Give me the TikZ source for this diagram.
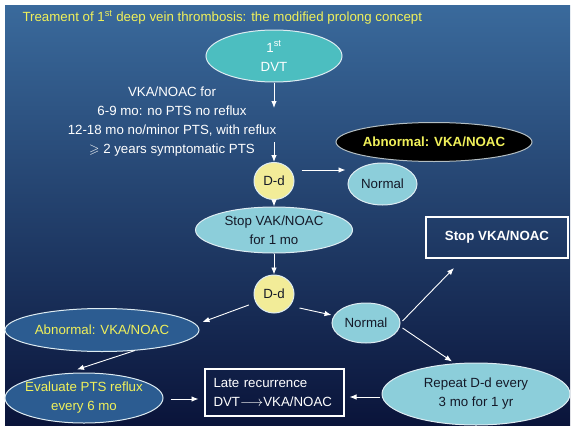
\documentclass[tikz,border=0pt]{standalone}
\usepackage{amssymb}
\usepackage{fontspec}
\setmainfont{Liberation Sans}
\usepackage{xcolor}
\usetikzlibrary{positioning, arrows.meta, shapes.geometric}

\definecolor{bgtop}{RGB}{58,106,156}
\definecolor{bgmid}{RGB}{28,60,108}
\definecolor{bgbot}{RGB}{10,20,58}
\definecolor{dvtfill}{RGB}{76,190,192}
\definecolor{ddfill}{RGB}{242,236,152}
\definecolor{palefill}{RGB}{140,206,218}
\definecolor{deepfill}{RGB}{44,92,145}
\definecolor{ringcol}{RGB}{222,236,242}
\definecolor{inkcol}{RGB}{20,25,40}
\definecolor{txtyellow}{RGB}{240,240,90}

\begin{document}
\begin{tikzpicture}[x=1pt, y=-1pt, on grid,
		every node/.style={font=\fontsize{13.3}{19}\selectfont},
		oval/.style={draw=ringcol, ellipse, inner sep=-12pt, line width=1pt, align=center},
		dvtoval/.style={oval, fill=dvtfill, text=white, minimum width=136pt, minimum height=52pt},
		ddoval/.style={oval, fill=ddfill, text=inkcol, minimum width=40pt, minimum height=37pt},
		pale/.style={oval, fill=palefill, text=inkcol},
		deep/.style={oval, fill=deepfill, text=txtyellow},
		plainbox/.style={draw=white, line width=2pt, rectangle, text=white, minimum height=41pt},
		arr/.style={draw=white, line width=0.9pt, -{Latex[length=7pt, width=5.5pt]}}]

		\useasboundingbox (0,0) rectangle (575,431);
		\fill[white] (0,0) rectangle (575,431);
		\shade[top color=bgtop, middle color=bgmid, bottom color=bgbot] (5,5) rectangle (570,425);

		\node[anchor=west, text=txtyellow] (title) at (19,17) {Treament of 1\textsuperscript{st} deep vein thrombosis: the modified prolong concept};

		\node[dvtoval] (dvt) at (274,56) {1\textsuperscript{st}\\DVT};
		\node[text=white, align=center, below left = 66pt and 102pt of dvt] (plan) {VKA/NOAC for\\6-9 mo: no PTS no reflux\\12-18 mo no/minor PTS, with reflux\\$\geqslant$ 2 years symptomatic PTS};
		\coordinate[below = 52pt of dvt] (gap-1);
		\coordinate[below = 86pt of dvt] (gap-2);
		\node[ddoval, below = 125pt of dvt] (dd-1) {D-d};
		\node[pale, minimum width=69pt, minimum height=42pt, below right = 3pt and 108.5pt of dd-1] (norm-1) {Normal};
		\node[oval, fill=black, draw=ringcol!80!black, text=txtyellow, minimum width=196pt, minimum height=39pt, above right = 39pt and 160pt of dd-1] (abn-1) {\bfseries Abnormal: VKA/NOAC};
		\node[pale, minimum width=157pt, minimum height=46pt, below = 49pt of dd-1] (stop-1) {Stop VAK/NOAC\\for 1 mo};
		\node[ddoval, minimum height=38pt, below = 64pt of stop-1] (dd-2) {D-d};
		\node[pale, minimum width=68pt, minimum height=40pt, below right = 29pt and 92pt of dd-2] (norm-2) {Normal};
		\node[deep, minimum width=194pt, minimum height=43pt, below left = 36pt and 172pt of dd-2] (abn-2) {Abnormal: VKA/NOAC};
		\node[deep, minimum width=158pt, minimum height=50pt, below left = 68pt and 18pt of abn-2] (eval) {Evaluate PTS reflux\\every 6 mo};
		\node[plainbox, inner sep=9pt, text width=121pt, align=left, below = 98.5pt of dd-2] (late) {Late recurrence\\DVT$\longrightarrow$VKA/NOAC};
		\node[pale, minimum width=188pt, minimum height=62pt, below right = 71pt and 110pt of norm-2] (repeat) {Repeat D-d every\\3 mo for 1 yr};
		\node[plainbox, minimum width=142pt, above right = 85.5pt and 131pt of norm-2] (stopbox) {\bfseries Stop VKA/NOAC};

		\draw[arr] (dvt) -- (gap-1);
		\draw[arr] (gap-2) -- (dd-1);
		\draw[arr] (dd-1) -- (stop-1);
		\draw[arr] (stop-1) -- (dd-2);
		\draw[arr] ([xshift=7pt, yshift=11pt]dd-1.east) -- ([xshift=-2pt, yshift=14pt]norm-1.west);
		\draw[arr] ([xshift=-6pt, yshift=-4pt]dd-2.200) -- ([xshift=3pt, yshift=8pt]abn-2.east);
		\draw[arr] ([xshift=5pt, yshift=-14pt]dd-2.east) -- ([yshift=8pt]norm-2.west);
		\draw[arr] ([xshift=2pt, yshift=2pt]norm-2.east) -- ([xshift=-43pt, yshift=-9pt]stopbox.south);
		\draw[arr] ([xshift=2pt, yshift=-5pt]norm-2.east) -- ([xshift=-24pt, yshift=1pt]repeat.north);
		\draw[arr] ([xshift=33pt, yshift=1.5pt]abn-2.south) -- ([xshift=-7pt, yshift=3pt]eval.north);
		\draw[arr] ([xshift=7pt, yshift=-1pt]eval.east) -- ([xshift=-5pt, yshift=-6.5pt]late.west);
		\draw[arr] ([xshift=-2pt, yshift=-3pt]repeat.west) -- ([xshift=5pt, yshift=-4.5pt]late.east);
\end{tikzpicture}
\end{document}
